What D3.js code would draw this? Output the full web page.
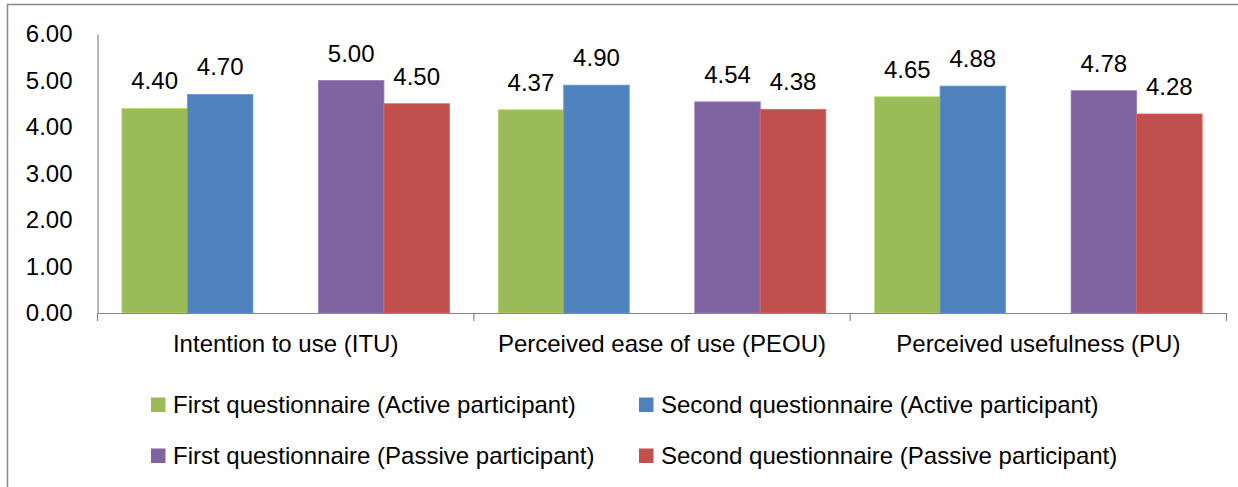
<!DOCTYPE html>
<html>
<head>
<meta charset="utf-8">
<script src="https://cdn.jsdelivr.net/npm/d3@7"></script>
<style>
  html, body { margin: 0; padding: 0; background: #fff; }
  svg { display: block; }
  text { font-family: "Liberation Sans", Arial, sans-serif; fill: #000; }
</style>
</head>
<body>
<svg id="chart" width="1238" height="487"></svg>
<script>
// Mean scores per construct, by questionnaire and participant group
const categories = ["Intention to use (ITU)", "Perceived ease of use (PEOU)", "Perceived usefulness (PU)"];
const seriesNames = [
  "First questionnaire (Active participant)",
  "Second questionnaire (Active participant)",
  "First questionnaire (Passive participant)",
  "Second questionnaire (Passive participant)"
];
const firstActive   = [4.40, 4.37, 4.65];
const secondActive  = [4.70, 4.90, 4.88];
const firstPassive  = [5.00, 4.54, 4.78];
const secondPassive = [4.50, 4.38, 4.28];
const yTicks = [0, 1, 2, 3, 4, 5, 6];
const colors = ["#9BBB59", "#4F81BD", "#8064A2", "#C0504D"];

// Each category holds five bar slots; the middle one is left empty
const slotKeys = ["fa", "sa", "gap", "fp", "sp"];
const seriesSlots = ["fa", "sa", "fp", "sp"];
const seriesValues = [firstActive, secondActive, firstPassive, secondPassive];

const svg = d3.select("#chart");
const fontSize = 24;

// Outer frame
svg.append("rect")
  .attr("x", 7.5).attr("y", 4.5)
  .attr("width", 1240).attr("height", 500)
  .attr("fill", "none").attr("stroke", "#8a8a8a").attr("stroke-width", 1.5);

const plotLeft = 97.5, plotRight = 1226.5, plotTop = 34, plotBottom = 313;

const x0 = d3.scaleBand().domain(categories).range([plotLeft, plotRight]).paddingInner(0).paddingOuter(0);
const x1 = d3.scaleBand().domain(slotKeys).range([0, x0.bandwidth()]).paddingInner(0).paddingOuter(0.372);
const y = d3.scaleLinear().domain([0, 6]).range([plotBottom, plotTop]);

// Y axis
const yAxis = svg.append("g")
  .attr("transform", `translate(${plotLeft},0)`)
  .call(d3.axisLeft(y).tickValues(yTicks).tickFormat(d3.format(".2f")).tickSize(0).tickSizeOuter(0).tickPadding(25));
yAxis.select(".domain").attr("stroke", "#868686").attr("stroke-width", 1.2);
yAxis.selectAll("text").attr("font-size", fontSize).attr("font-family", "Liberation Sans, Arial, sans-serif").attr("fill", "#000");

// Bars
const rows = categories.map((c, i) => ({ category: c, values: seriesValues.map(s => s[i]) }));
const groups = svg.append("g").selectAll("g")
  .data(rows).join("g")
  .attr("transform", d => `translate(${x0(d.category)},0)`);

groups.selectAll("rect")
  .data(d => d.values.map((v, k) => ({ v, k })))
  .join("rect")
  .attr("x", d => x1(seriesSlots[d.k]))
  .attr("y", d => y(d.v))
  .attr("width", x1.bandwidth())
  .attr("height", d => y(0) - y(d.v))
  .attr("fill", d => colors[d.k])
  .attr("stroke", d => d3.color(colors[d.k]).brighter(0.5))
  .attr("stroke-width", 0.8);

groups.selectAll("text")
  .data(d => d.values.map((v, k) => ({ v, k })))
  .join("text")
  .attr("x", d => x1(seriesSlots[d.k]) + x1.bandwidth() / 2)
  .attr("y", d => y(d.v) - 19)
  .attr("text-anchor", "middle")
  .attr("font-size", fontSize)
  .text(d => d3.format(".2f")(d.v));

// X axis with ticks on category boundaries
const xAxis = svg.append("g")
  .attr("transform", `translate(0,${plotBottom})`)
  .call(d3.axisBottom(x0).tickSize(0).tickSizeOuter(0).tickPadding(22));
xAxis.select(".domain").attr("stroke", "#868686").attr("stroke-width", 1.2);
xAxis.selectAll("text").attr("font-size", fontSize).attr("font-family", "Liberation Sans, Arial, sans-serif").attr("fill", "#000");
const boundaries = categories.map(c => x0(c)).concat([x0.range()[1]]);
xAxis.selectAll("line.bound")
  .data(boundaries).join("line")
  .attr("class", "bound")
  .attr("x1", d => d).attr("x2", d => d)
  .attr("y1", 0).attr("y2", 8)
  .attr("stroke", "#868686").attr("stroke-width", 1.2);

// Legend, two columns by two rows
const legendPos = [
  { x: 151, y: 405 }, { x: 639, y: 405 },
  { x: 151, y: 456 }, { x: 639, y: 456 }
];
const legend = svg.append("g").selectAll("g")
  .data(seriesNames).join("g")
  .attr("transform", (d, i) => `translate(${legendPos[i].x},${legendPos[i].y})`);
legend.append("rect")
  .attr("x", 0).attr("y", -7.5).attr("width", 14.5).attr("height", 14.5)
  .attr("fill", (d, i) => colors[i]);
legend.append("text")
  .attr("x", 22).attr("y", 0).attr("dy", "0.35em")
  .attr("font-size", fontSize)
  .text(d => d);
</script>
</body>
</html>
